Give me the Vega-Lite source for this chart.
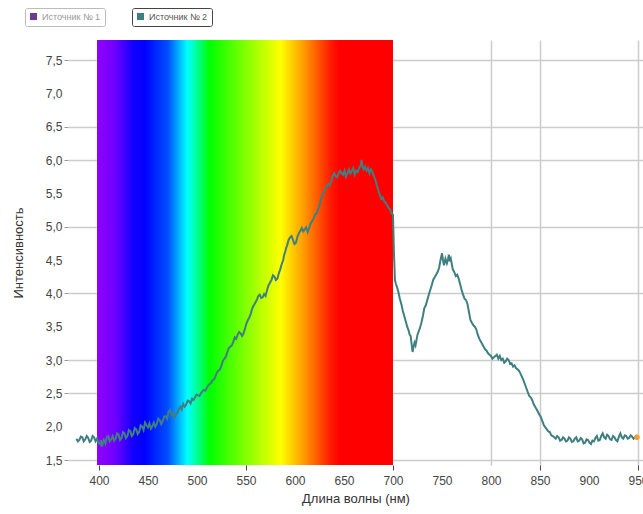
{
  "$schema": "https://vega.github.io/schema/vega-lite/v6.json",
  "autosize": {"type": "none"},
  "padding": {"left": 68, "top": 40, "right": 0, "bottom": 49},
  "width": 575,
  "height": 425,
  "background": "white",
  "config": {
    "view": {"stroke": null},
    "font": "Liberation Sans",
    "axis": {"labelOverlap": false},
    "axisY": {
      "labelOverlap": false,
      "values": [1.5, 2, 2.5, 3, 3.5, 4, 4.5, 5, 5.5, 6, 6.5, 7, 7.5],
      "labelExpr": "replace(format(datum.value, '.1f'), '.', ',')",
      "titleFont": "Liberation Sans", "titleFontSize": 13, "titleFontWeight": "normal", "titleColor": "#333", "titlePadding": 20,
      "labelFont": "Liberation Sans", "labelFontSize": 12, "labelColor": "#444", "labelPadding": 2, "labelFlush": false,
      "domain": false,
      "tickSize": 4,
      "tickColor": {"condition": {"test": "indexof([1.5,2.5,3,4,5,6,6.5,7.5], datum.value) >= 0", "value": "#999"}, "value": "transparent"},
      "grid": true,
      "gridColor": {"condition": {"test": "indexof([1.5,2.5,3,4,5,6,6.5,7.5], datum.value) >= 0", "value": "#cccccc"}, "value": "transparent"},
      "gridWidth": 1.5
    }
  },
  "datasets": {
    "spectrum": [
      {"wl": 377, "intensity": 1.82}, {"wl": 378.5, "intensity": 1.78}, {"wl": 380, "intensity": 1.80}, {"wl": 381.5, "intensity": 1.85},
      {"wl": 383, "intensity": 1.84}, {"wl": 384.5, "intensity": 1.78}, {"wl": 386, "intensity": 1.81}, {"wl": 387.5, "intensity": 1.86},
      {"wl": 389, "intensity": 1.83}, {"wl": 390.5, "intensity": 1.77}, {"wl": 392, "intensity": 1.79}, {"wl": 393.5, "intensity": 1.86},
      {"wl": 395, "intensity": 1.84}, {"wl": 396.5, "intensity": 1.78}, {"wl": 398, "intensity": 1.82}, {"wl": 399.5, "intensity": 1.76},
      {"wl": 401, "intensity": 1.74}, {"wl": 402, "intensity": 1.80}, {"wl": 403, "intensity": 1.70}, {"wl": 404, "intensity": 1.76},
      {"wl": 405, "intensity": 1.80}, {"wl": 406.5, "intensity": 1.75}, {"wl": 408, "intensity": 1.84}, {"wl": 409.5, "intensity": 1.86},
      {"wl": 411, "intensity": 1.78}, {"wl": 412.5, "intensity": 1.81}, {"wl": 414, "intensity": 1.86}, {"wl": 415.5, "intensity": 1.79},
      {"wl": 417, "intensity": 1.82}, {"wl": 418.5, "intensity": 1.90}, {"wl": 420, "intensity": 1.88}, {"wl": 421.5, "intensity": 1.80},
      {"wl": 423, "intensity": 1.83}, {"wl": 424.5, "intensity": 1.92}, {"wl": 426, "intensity": 1.90}, {"wl": 427.5, "intensity": 1.83},
      {"wl": 429, "intensity": 1.86}, {"wl": 430.5, "intensity": 1.95}, {"wl": 432, "intensity": 1.93}, {"wl": 433.5, "intensity": 1.86},
      {"wl": 435, "intensity": 1.89}, {"wl": 436.5, "intensity": 1.98}, {"wl": 438, "intensity": 1.96}, {"wl": 439.5, "intensity": 1.89},
      {"wl": 441, "intensity": 1.92}, {"wl": 442.5, "intensity": 2.02}, {"wl": 444, "intensity": 2.00}, {"wl": 445.5, "intensity": 1.95},
      {"wl": 447, "intensity": 2.06}, {"wl": 448.5, "intensity": 2.02}, {"wl": 450, "intensity": 1.99}, {"wl": 451.5, "intensity": 2.05},
      {"wl": 453, "intensity": 1.97}, {"wl": 454.5, "intensity": 2.01}, {"wl": 456, "intensity": 2.06}, {"wl": 457.5, "intensity": 2.00},
      {"wl": 459, "intensity": 2.04}, {"wl": 460.5, "intensity": 2.12}, {"wl": 462, "intensity": 2.10}, {"wl": 463.5, "intensity": 2.04},
      {"wl": 465, "intensity": 2.08}, {"wl": 466.5, "intensity": 2.15}, {"wl": 468, "intensity": 2.16}, {"wl": 469.5, "intensity": 2.12},
      {"wl": 471, "intensity": 2.22}, {"wl": 472.5, "intensity": 2.25}, {"wl": 474, "intensity": 2.18}, {"wl": 475.5, "intensity": 2.20},
      {"wl": 477, "intensity": 2.14}, {"wl": 478.5, "intensity": 2.19}, {"wl": 480, "intensity": 2.20}, {"wl": 481.5, "intensity": 2.27},
      {"wl": 483, "intensity": 2.30}, {"wl": 484.5, "intensity": 2.26}, {"wl": 486, "intensity": 2.34}, {"wl": 487.5, "intensity": 2.30},
      {"wl": 489, "intensity": 2.33}, {"wl": 490.5, "intensity": 2.39}, {"wl": 492, "intensity": 2.38}, {"wl": 493.5, "intensity": 2.35},
      {"wl": 495, "intensity": 2.42}, {"wl": 496.5, "intensity": 2.40}, {"wl": 498, "intensity": 2.44}, {"wl": 499.5, "intensity": 2.48},
      {"wl": 501, "intensity": 2.47}, {"wl": 502.5, "intensity": 2.46}, {"wl": 504, "intensity": 2.50}, {"wl": 505.5, "intensity": 2.53},
      {"wl": 507, "intensity": 2.55}, {"wl": 508.5, "intensity": 2.54}, {"wl": 510, "intensity": 2.58}, {"wl": 511.5, "intensity": 2.62},
      {"wl": 513, "intensity": 2.64}, {"wl": 514.5, "intensity": 2.66}, {"wl": 516, "intensity": 2.70}, {"wl": 517.5, "intensity": 2.71},
      {"wl": 519, "intensity": 2.76}, {"wl": 520.5, "intensity": 2.82}, {"wl": 522, "intensity": 2.84}, {"wl": 523.5, "intensity": 2.86},
      {"wl": 525, "intensity": 2.92}, {"wl": 526.5, "intensity": 2.99}, {"wl": 528, "intensity": 3.02}, {"wl": 529.5, "intensity": 3.05},
      {"wl": 531, "intensity": 3.12}, {"wl": 532.5, "intensity": 3.18}, {"wl": 534, "intensity": 3.20}, {"wl": 535.5, "intensity": 3.22},
      {"wl": 537, "intensity": 3.27}, {"wl": 538.5, "intensity": 3.34}, {"wl": 540, "intensity": 3.32}, {"wl": 541.5, "intensity": 3.38},
      {"wl": 543, "intensity": 3.42}, {"wl": 544.5, "intensity": 3.40}, {"wl": 546, "intensity": 3.36}, {"wl": 547.5, "intensity": 3.40},
      {"wl": 549, "intensity": 3.47}, {"wl": 550.5, "intensity": 3.55}, {"wl": 552, "intensity": 3.60}, {"wl": 553.5, "intensity": 3.64},
      {"wl": 555, "intensity": 3.70}, {"wl": 556.5, "intensity": 3.78}, {"wl": 558, "intensity": 3.82}, {"wl": 559.5, "intensity": 3.86},
      {"wl": 561, "intensity": 3.90}, {"wl": 562.5, "intensity": 3.96}, {"wl": 564, "intensity": 3.98}, {"wl": 565.5, "intensity": 3.93},
      {"wl": 567, "intensity": 3.94}, {"wl": 568.5, "intensity": 3.99}, {"wl": 570, "intensity": 3.96}, {"wl": 571.5, "intensity": 4.05},
      {"wl": 573, "intensity": 4.12}, {"wl": 574.5, "intensity": 4.16}, {"wl": 576, "intensity": 4.20}, {"wl": 577.5, "intensity": 4.27},
      {"wl": 579, "intensity": 4.25}, {"wl": 580.5, "intensity": 4.20}, {"wl": 582, "intensity": 4.22}, {"wl": 583.5, "intensity": 4.30},
      {"wl": 585, "intensity": 4.36}, {"wl": 586.5, "intensity": 4.44}, {"wl": 588, "intensity": 4.50}, {"wl": 589, "intensity": 4.58},
      {"wl": 590, "intensity": 4.62}, {"wl": 591, "intensity": 4.68}, {"wl": 592, "intensity": 4.72}, {"wl": 593.5, "intensity": 4.80},
      {"wl": 595, "intensity": 4.84}, {"wl": 596.5, "intensity": 4.86}, {"wl": 598, "intensity": 4.80}, {"wl": 599.5, "intensity": 4.74},
      {"wl": 601, "intensity": 4.76}, {"wl": 602.5, "intensity": 4.85}, {"wl": 604, "intensity": 4.90}, {"wl": 605.5, "intensity": 4.94},
      {"wl": 607, "intensity": 4.98}, {"wl": 608.5, "intensity": 4.93}, {"wl": 610, "intensity": 4.96}, {"wl": 611.5, "intensity": 4.99},
      {"wl": 613, "intensity": 4.92}, {"wl": 614.5, "intensity": 4.98}, {"wl": 616, "intensity": 5.05}, {"wl": 617.5, "intensity": 5.08},
      {"wl": 619, "intensity": 5.12}, {"wl": 620.5, "intensity": 5.18}, {"wl": 622, "intensity": 5.20}, {"wl": 623.5, "intensity": 5.26},
      {"wl": 625, "intensity": 5.32}, {"wl": 626.5, "intensity": 5.42}, {"wl": 628, "intensity": 5.48}, {"wl": 629.5, "intensity": 5.52},
      {"wl": 631, "intensity": 5.56}, {"wl": 632.5, "intensity": 5.62}, {"wl": 634, "intensity": 5.64}, {"wl": 635.5, "intensity": 5.62},
      {"wl": 637, "intensity": 5.68}, {"wl": 638.5, "intensity": 5.76}, {"wl": 640, "intensity": 5.80}, {"wl": 641.5, "intensity": 5.76},
      {"wl": 643, "intensity": 5.74}, {"wl": 644.5, "intensity": 5.80}, {"wl": 646, "intensity": 5.84}, {"wl": 647.5, "intensity": 5.80},
      {"wl": 649, "intensity": 5.78}, {"wl": 650.5, "intensity": 5.84}, {"wl": 652, "intensity": 5.75}, {"wl": 653.5, "intensity": 5.80},
      {"wl": 655, "intensity": 5.86}, {"wl": 656.5, "intensity": 5.80}, {"wl": 658, "intensity": 5.84}, {"wl": 659.5, "intensity": 5.88},
      {"wl": 661, "intensity": 5.78}, {"wl": 662.5, "intensity": 5.84}, {"wl": 664, "intensity": 5.82}, {"wl": 665.5, "intensity": 5.88},
      {"wl": 667, "intensity": 5.92}, {"wl": 668, "intensity": 6.00}, {"wl": 669, "intensity": 5.90}, {"wl": 670, "intensity": 5.86},
      {"wl": 671.5, "intensity": 5.90}, {"wl": 673, "intensity": 5.84}, {"wl": 674.5, "intensity": 5.88}, {"wl": 676, "intensity": 5.80},
      {"wl": 677.5, "intensity": 5.86}, {"wl": 679, "intensity": 5.82}, {"wl": 680.5, "intensity": 5.76}, {"wl": 682, "intensity": 5.70},
      {"wl": 683.5, "intensity": 5.62}, {"wl": 685, "intensity": 5.55}, {"wl": 686.5, "intensity": 5.48}, {"wl": 688, "intensity": 5.42},
      {"wl": 689.5, "intensity": 5.44}, {"wl": 691, "intensity": 5.38}, {"wl": 692.5, "intensity": 5.36}, {"wl": 694, "intensity": 5.32},
      {"wl": 695.5, "intensity": 5.28}, {"wl": 697, "intensity": 5.26}, {"wl": 698.5, "intensity": 5.20}, {"wl": 700, "intensity": 5.18},
      {"wl": 701, "intensity": 4.60}, {"wl": 702, "intensity": 4.20}, {"wl": 703, "intensity": 4.14}, {"wl": 704, "intensity": 4.10},
      {"wl": 705.5, "intensity": 4.02}, {"wl": 707, "intensity": 3.92}, {"wl": 708.5, "intensity": 3.84}, {"wl": 710, "intensity": 3.74},
      {"wl": 711.5, "intensity": 3.66}, {"wl": 713, "intensity": 3.58}, {"wl": 714.5, "intensity": 3.50}, {"wl": 716, "intensity": 3.44},
      {"wl": 717, "intensity": 3.38}, {"wl": 718, "intensity": 3.36}, {"wl": 719, "intensity": 3.24}, {"wl": 720, "intensity": 3.12},
      {"wl": 721, "intensity": 3.20}, {"wl": 722, "intensity": 3.26}, {"wl": 723, "intensity": 3.22}, {"wl": 724, "intensity": 3.30},
      {"wl": 725, "intensity": 3.38}, {"wl": 726, "intensity": 3.42}, {"wl": 727.5, "intensity": 3.48}, {"wl": 729, "intensity": 3.56},
      {"wl": 730.5, "intensity": 3.66}, {"wl": 732, "intensity": 3.78}, {"wl": 733.5, "intensity": 3.82}, {"wl": 735, "intensity": 3.90},
      {"wl": 736.5, "intensity": 3.98}, {"wl": 738, "intensity": 4.05}, {"wl": 739.5, "intensity": 4.12}, {"wl": 741, "intensity": 4.20},
      {"wl": 742.5, "intensity": 4.24}, {"wl": 744, "intensity": 4.28}, {"wl": 745.5, "intensity": 4.32}, {"wl": 747, "intensity": 4.38},
      {"wl": 748.5, "intensity": 4.50}, {"wl": 750, "intensity": 4.60}, {"wl": 751, "intensity": 4.50}, {"wl": 752, "intensity": 4.42},
      {"wl": 753.5, "intensity": 4.52}, {"wl": 755, "intensity": 4.45}, {"wl": 756, "intensity": 4.50}, {"wl": 757, "intensity": 4.58},
      {"wl": 758, "intensity": 4.48}, {"wl": 759, "intensity": 4.52}, {"wl": 760, "intensity": 4.44}, {"wl": 761, "intensity": 4.36},
      {"wl": 762.5, "intensity": 4.32}, {"wl": 764, "intensity": 4.26}, {"wl": 765.5, "intensity": 4.28}, {"wl": 767, "intensity": 4.22},
      {"wl": 768.5, "intensity": 4.14}, {"wl": 770, "intensity": 4.05}, {"wl": 771.5, "intensity": 3.98}, {"wl": 773, "intensity": 3.92},
      {"wl": 774.5, "intensity": 3.90}, {"wl": 776, "intensity": 3.84}, {"wl": 777.5, "intensity": 3.72}, {"wl": 779, "intensity": 3.60},
      {"wl": 780.5, "intensity": 3.56}, {"wl": 782, "intensity": 3.52}, {"wl": 783.5, "intensity": 3.50}, {"wl": 785, "intensity": 3.46},
      {"wl": 786.5, "intensity": 3.38}, {"wl": 788, "intensity": 3.32}, {"wl": 789.5, "intensity": 3.28}, {"wl": 791, "intensity": 3.24},
      {"wl": 792.5, "intensity": 3.20}, {"wl": 794, "intensity": 3.16}, {"wl": 795.5, "intensity": 3.14}, {"wl": 797, "intensity": 3.10},
      {"wl": 798.5, "intensity": 3.08}, {"wl": 800, "intensity": 3.06}, {"wl": 801.5, "intensity": 3.02}, {"wl": 803, "intensity": 3.04},
      {"wl": 804.5, "intensity": 3.06}, {"wl": 806, "intensity": 3.08}, {"wl": 807.5, "intensity": 3.02}, {"wl": 809, "intensity": 3.06},
      {"wl": 810.5, "intensity": 3.00}, {"wl": 812, "intensity": 3.02}, {"wl": 813.5, "intensity": 2.96}, {"wl": 815, "intensity": 2.98},
      {"wl": 816.5, "intensity": 3.02}, {"wl": 818, "intensity": 3.00}, {"wl": 819.5, "intensity": 2.94}, {"wl": 821, "intensity": 2.95},
      {"wl": 822.5, "intensity": 2.90}, {"wl": 824, "intensity": 2.92}, {"wl": 825.5, "intensity": 2.88}, {"wl": 827, "intensity": 2.86},
      {"wl": 828.5, "intensity": 2.84}, {"wl": 830, "intensity": 2.80}, {"wl": 831.5, "intensity": 2.75}, {"wl": 833, "intensity": 2.70},
      {"wl": 834.5, "intensity": 2.64}, {"wl": 836, "intensity": 2.58}, {"wl": 837.5, "intensity": 2.52}, {"wl": 839, "intensity": 2.46},
      {"wl": 840.5, "intensity": 2.44}, {"wl": 842, "intensity": 2.40}, {"wl": 843.5, "intensity": 2.34}, {"wl": 845, "intensity": 2.30},
      {"wl": 846.5, "intensity": 2.26}, {"wl": 848, "intensity": 2.22}, {"wl": 849.5, "intensity": 2.18}, {"wl": 851, "intensity": 2.14},
      {"wl": 852.5, "intensity": 2.08}, {"wl": 854, "intensity": 2.02}, {"wl": 855.5, "intensity": 1.99}, {"wl": 857, "intensity": 1.96},
      {"wl": 858.5, "intensity": 1.93}, {"wl": 860, "intensity": 1.92}, {"wl": 861.5, "intensity": 1.87}, {"wl": 863, "intensity": 1.86},
      {"wl": 864.5, "intensity": 1.84}, {"wl": 866, "intensity": 1.82}, {"wl": 867.5, "intensity": 1.86}, {"wl": 869, "intensity": 1.84},
      {"wl": 870.5, "intensity": 1.79}, {"wl": 872, "intensity": 1.80}, {"wl": 873.5, "intensity": 1.84}, {"wl": 875, "intensity": 1.82},
      {"wl": 876.5, "intensity": 1.78}, {"wl": 878, "intensity": 1.79}, {"wl": 879.5, "intensity": 1.84}, {"wl": 881, "intensity": 1.82},
      {"wl": 882.5, "intensity": 1.77}, {"wl": 884, "intensity": 1.78}, {"wl": 885.5, "intensity": 1.82}, {"wl": 887, "intensity": 1.84},
      {"wl": 888.5, "intensity": 1.78}, {"wl": 890, "intensity": 1.79}, {"wl": 891.5, "intensity": 1.83}, {"wl": 893, "intensity": 1.81},
      {"wl": 894.5, "intensity": 1.75}, {"wl": 896, "intensity": 1.76}, {"wl": 897.5, "intensity": 1.81}, {"wl": 899, "intensity": 1.80},
      {"wl": 900.5, "intensity": 1.76}, {"wl": 902, "intensity": 1.74}, {"wl": 903.5, "intensity": 1.79}, {"wl": 905, "intensity": 1.78},
      {"wl": 906.5, "intensity": 1.83}, {"wl": 908, "intensity": 1.86}, {"wl": 909.5, "intensity": 1.79}, {"wl": 911, "intensity": 1.80},
      {"wl": 912.5, "intensity": 1.86}, {"wl": 914, "intensity": 1.90}, {"wl": 915.5, "intensity": 1.84}, {"wl": 917, "intensity": 1.82},
      {"wl": 918.5, "intensity": 1.88}, {"wl": 920, "intensity": 1.86}, {"wl": 921.5, "intensity": 1.81}, {"wl": 923, "intensity": 1.80},
      {"wl": 924.5, "intensity": 1.86}, {"wl": 926, "intensity": 1.84}, {"wl": 927.5, "intensity": 1.80}, {"wl": 929, "intensity": 1.78},
      {"wl": 930.5, "intensity": 1.85}, {"wl": 932, "intensity": 1.90}, {"wl": 933.5, "intensity": 1.84}, {"wl": 935, "intensity": 1.82},
      {"wl": 936.5, "intensity": 1.87}, {"wl": 938, "intensity": 1.86}, {"wl": 939.5, "intensity": 1.82}, {"wl": 941, "intensity": 1.83},
      {"wl": 942.5, "intensity": 1.87}, {"wl": 944, "intensity": 1.85}, {"wl": 945.5, "intensity": 1.82}, {"wl": 947, "intensity": 1.84},
      {"wl": 948, "intensity": 1.86}, {"wl": 949, "intensity": 1.84}
    ],
    "band": [{"from": 398, "to": 700}]
  },
  "layer": [
    {
      "data": {"name": "band"},
      "mark": {
        "type": "rect",
        "fill": {
          "gradient": "linear", "x1": 0, "x2": 1, "y1": 0, "y2": 0,
          "stops": [
            {"offset": 0, "color": "#8f00ff"},
            {"offset": 0.06, "color": "#7000ff"},
            {"offset": 0.12, "color": "#1400ff"},
            {"offset": 0.16, "color": "#0000ff"},
            {"offset": 0.24, "color": "#0050ff"},
            {"offset": 0.305, "color": "#00ffff"},
            {"offset": 0.34, "color": "#00ff90"},
            {"offset": 0.38, "color": "#00ff00"},
            {"offset": 0.5, "color": "#80ff00"},
            {"offset": 0.62, "color": "#ffff00"},
            {"offset": 0.7, "color": "#ff9900"},
            {"offset": 0.79, "color": "#ff1a00"},
            {"offset": 0.82, "color": "#ff0000"},
            {"offset": 1, "color": "#ff0000"}
          ]
        }
      },
      "encoding": {
        "x": {
          "field": "from", "type": "quantitative",
          "scale": {"domain": [368.4, 955.1], "nice": false, "zero": false},
          "axis": {
            "values": [400, 450, 500, 550, 600, 650, 700, 750, 800, 850, 900, 950],
            "labelOverlap": false,
            "title": "Длина волны (нм)",
            "titleFont": "Liberation Sans", "titleFontSize": 13, "titleFontWeight": "normal", "titleColor": "#333", "titlePadding": 6,
            "labelFont": "Liberation Sans", "labelFontSize": 12, "labelColor": "#444", "labelPadding": 5, "labelFlush": false,
            "domain": false,
            "tickSize": 5,
            "tickColor": {"condition": {"test": "indexof([400,550,700,850,950], datum.value) >= 0", "value": "#444"}, "value": "transparent"},
            "grid": true,
            "gridColor": {"condition": {"test": "indexof([800,850,950], datum.value) >= 0", "value": "#cccccc"}, "value": "transparent"},
            "gridWidth": 1.5
          }
        },
        "x2": {"field": "to"}
      }
    },
    {
      "data": {"name": "spectrum"},
      "mark": {"type": "line", "strokeWidth": 2, "interpolate": "linear"},
      "encoding": {
        "x": {"field": "wl", "type": "quantitative"},
        "y": {
          "field": "intensity", "type": "quantitative",
          "scale": {"domain": [1.425, 7.8], "nice": false, "zero": false},
          "axis": {"title": "Интенсивность", "labelOverlap": false}
        },
        "color": {
          "datum": "Источник № 2",
          "scale": {"domain": ["Источник № 2"], "range": ["#3f7f80"]},
          "legend": {
            "orient": "none", "legendX": 64, "legendY": -32, "title": null,
            "symbolType": "square", "symbolSize": 50, "symbolFillColor": "#3f7f80", "symbolStrokeWidth": 0,
            "labelFont": "Liberation Sans", "labelFontSize": 9, "labelColor": "#555",
            "strokeColor": "#444", "fillColor": "white", "padding": 4, "cornerRadius": 2
          }
        }
      }
    },
    {
      "data": {"name": "spectrum"},
      "transform": [{"filter": "datum.wl < 0"}],
      "mark": {"type": "point", "filled": true},
      "encoding": {
        "x": {"field": "wl", "type": "quantitative"},
        "y": {"field": "intensity", "type": "quantitative", "axis": {"title": "Интенсивность", "labelOverlap": false}},
        "fill": {
          "datum": "Источник № 1",
          "scale": {"domain": ["Источник № 1"], "range": ["#6b3d8f"]},
          "legend": {
            "orient": "none", "legendX": -43, "legendY": -32, "title": null,
            "symbolType": "square", "symbolSize": 50, "symbolOpacity": 1,
            "labelFont": "Liberation Sans", "labelFontSize": 9, "labelColor": "#999",
            "strokeColor": "#bbb", "fillColor": "white", "padding": 4, "cornerRadius": 2
          }
        }
      }
    },
    {
      "data": {"name": "spectrum"},
      "transform": [{"filter": "datum.wl >= 949"}],
      "mark": {"type": "point", "filled": true, "color": "#f0a030", "size": 30, "opacity": 1},
      "encoding": {
        "x": {"field": "wl", "type": "quantitative"},
        "y": {"field": "intensity", "type": "quantitative", "axis": {"title": "Интенсивность", "labelOverlap": false}}
      }
    }
  ]
}
